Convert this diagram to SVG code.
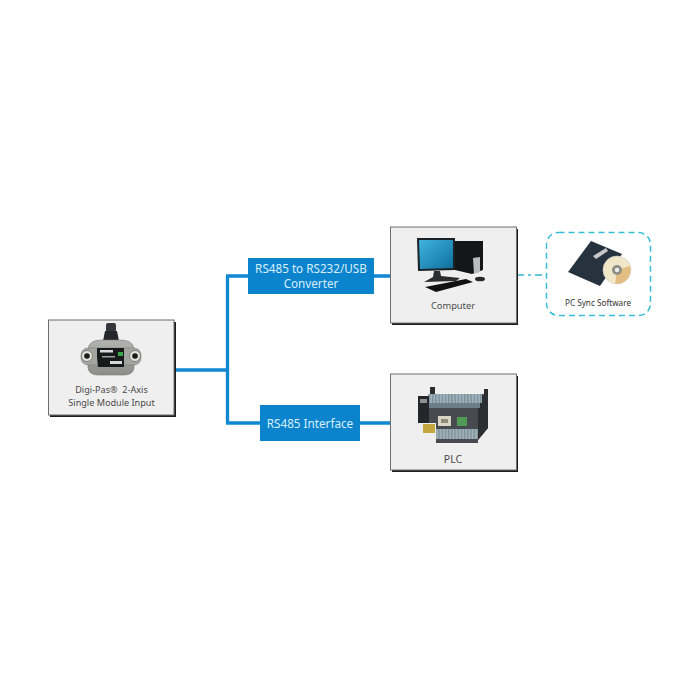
<svg xmlns="http://www.w3.org/2000/svg" width="700" height="700" viewBox="0 0 700 700">
<defs>
<linearGradient id="screen" x1="0" y1="0" x2="1" y2="1"><stop offset="0" stop-color="#3fb4e0"/><stop offset="1" stop-color="#0f6f9c"/></linearGradient>
<linearGradient id="shell" x1="0" y1="0" x2="0" y2="1"><stop offset="0" stop-color="#b3b4af"/><stop offset="1" stop-color="#8c8d89"/></linearGradient>
<pattern id="term" width="3.200" height="6" patternUnits="userSpaceOnUse"><rect width="3.200" height="6" fill="#9fb0b8"/><rect x="0" y="0" width="1.200" height="6" fill="#7a8e98"/></pattern>
</defs>
<style>
text{font-family:"Noto Sans","DejaVu Sans",sans-serif;text-anchor:middle}
.card{fill:#efefef;stroke:#6e6e6e;stroke-width:1}
.shadow{fill:#1c1c1c}
.lab{font-size:9.100px;fill:#4a4a4a}
.blue{fill:#0c83cd}
.wl{font-size:11.700px;fill:#d8effb}
.wire{fill:none;stroke:#0f87d2;stroke-width:3.300}
</style>
<rect width="700" height="700" fill="#fff"/>
<g id="connectors">
<path class="wire" d="M175 370H227.500M227.500 276V423M226 276H250M226 423H262M372 276H392M358 423H392"/>
<path d="M517 275H546" fill="none" stroke="#35b4d0" stroke-width="1.500" stroke-dasharray="7 4 3 4"/>
</g>
<g id="module">
<rect class="shadow" x="50" y="322" width="126" height="95"/>
<rect class="card" x="48.500" y="320" width="125.500" height="95"/>
<rect x="106" y="323" width="10" height="9" rx="2" fill="#34373b"/>
<path d="M105 331H117L119 341H103Z" fill="#24262a"/>
<path d="M88 349Q89 340 102 340H120Q133 340 134 349V368Q133 375 124 375H98Q89 375 88 368Z" fill="url(#shell)" stroke="#777" stroke-width=".6"/>
<rect x="81" y="348" width="60" height="17" rx="7" fill="#a4a5a0" stroke="#777" stroke-width=".5"/>
<circle cx="87" cy="356" r="5.500" fill="#e2e2dc" stroke="#66665f" stroke-width=".7"/><circle cx="87" cy="356" r="2.800" fill="#191919"/>
<circle cx="135" cy="356" r="5.500" fill="#e2e2dc" stroke="#66665f" stroke-width=".7"/><circle cx="135" cy="356" r="2.800" fill="#191919"/>
<path d="M97 348L124 348V367H98L97 357Z" fill="#17191a"/>
<rect x="100" y="350" width="13" height="2.500" fill="#d9d9d9"/>
<rect x="118" y="352" width="5" height="4" fill="#39a64b"/>
<rect x="102" y="356" width="13" height="1.500" fill="#a0a0a0"/>
<rect x="110" y="361" width="12" height="3" fill="#d8d8d8"/>
<text class="lab" x="111.500" y="393">Digi-Pas®&#160; 2-Axis</text>
<text class="lab" x="111.500" y="405.500">Single Module Input</text>
</g>
<g id="converter">
<rect class="blue" x="248" y="258" width="126" height="36"/>
<text class="wl" x="311" y="273">RS485 to RS232/USB</text>
<text class="wl" x="311" y="288">Converter</text>
</g>
<g id="interface">
<rect class="blue" x="260" y="405" width="100" height="36"/>
<text class="wl" x="310" y="427.500">RS485 Interface</text>
</g>
<g id="computer">
<rect class="shadow" x="392" y="229" width="126" height="96"/>
<rect class="card" x="390.500" y="227" width="126" height="96"/>
<path d="M455 241L483 241V270L472 274L455 270Z" fill="#141618"/>
<path d="M473 258L480 257V272L474 274Z" fill="#b9bdbe"/>
<path d="M417 238L455 238V270L418 271Z" fill="#1a2227"/>
<path d="M419 240L453 240V268L420 269Z" fill="url(#screen)"/>
<path d="M434 271H440L441 276L460 278L456 281L424 282L433 277Z" fill="#2b2d2f"/>
<path d="M425 287L466 279L473 282L436 292Z" fill="#111"/>
<ellipse cx="480" cy="279" rx="5" ry="2.300" fill="#2a2a2a"/>
<text class="lab" x="453" y="308.500" style="font-size:9.300px">Computer</text>
</g>
<g id="software">
<rect x="546.500" y="232.500" width="104" height="83" rx="12" fill="#fff" stroke="#35bcd6" stroke-width="1.500" stroke-dasharray="6 4"/>
<path d="M591 241L622 254L600 286L568 272Z" fill="#26333f"/>
<path d="M593 256L606 248L608 251L596 259Z" fill="#c9c9c9"/>
<circle cx="617" cy="270" r="14" fill="#f0e7c8" stroke="#cfcfcf" stroke-width=".6"/>
<path d="M617 270L630 266A14 14 0 0 1 615 284Z" fill="#e3bd82"/>
<circle cx="617" cy="270" r="5" fill="#8f8f85"/>
<circle cx="617" cy="270" r="2.200" fill="#efefef"/>
<text x="598" y="305.500" style="font-size:8.200px;fill:#333">PC Sync Software</text>
</g>
<g id="plc">
<rect class="shadow" x="392" y="376" width="126" height="96"/>
<rect class="card" x="390.500" y="374" width="126" height="96"/>
<rect x="430" y="387" width="5" height="9" fill="#2a2c2e"/>
<rect x="484" y="389" width="4" height="8" fill="#2a2c2e"/>
<path d="M428 394H482L488 396V428L478 440V443H436V423L428 423Z" fill="#474b4f"/>
<path d="M482 394L488 396V428L478 440V408Z" fill="#2c2f32"/>
<rect x="428" y="394" width="54" height="9" fill="url(#term)"/>
<rect x="428" y="403" width="52" height="5" fill="#6c7f89"/>
<rect x="418" y="396" width="11" height="27" fill="#24272a"/>
<rect x="420" y="399" width="7" height="4" fill="#8d9296"/>
<rect x="423" y="424" width="12" height="9" fill="#c2a73f"/>
<rect x="438" y="416" width="13" height="10" fill="#d9d4c4"/>
<rect x="441" y="419" width="7" height="4" fill="#8f8b7d"/>
<rect x="457" y="417" width="10" height="9" fill="#4f9a55"/>
<rect x="436" y="429" width="42" height="10" fill="url(#term)"/>
<text class="lab" x="453" y="463" style="font-size:10.500px">PLC</text>
</g>
</svg>
